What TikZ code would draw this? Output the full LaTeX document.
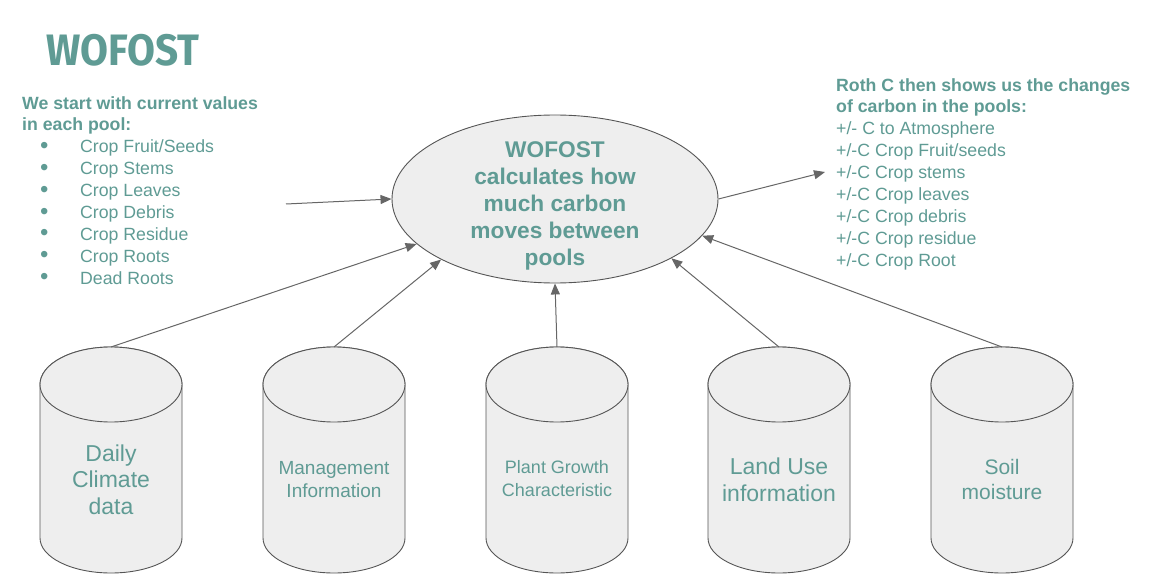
\documentclass[tikz,border=0pt]{standalone}
\usepackage{fontspec}
\setmainfont{Liberation Sans}
\newfontfamily\titlefont{Fira Sans}[FakeStretch=0.92]
\usetikzlibrary{shapes.geometric,arrows.meta}
\definecolor{teal}{HTML}{5F9B94}
\definecolor{edge}{HTML}{555555}
\definecolor{linegray}{HTML}{666666}
\definecolor{canfill}{HTML}{EEEEEE}
\newcommand{\poolbullet}{\makebox[58pt][l]{\hspace{18pt}\raisebox{-0.5pt}{\scalebox{1.35}{\textbullet}}}}

\begin{document}
\begin{tikzpicture}[x=1pt,y=-1pt,
  can/.style={draw=edge, line width=0.9pt, fill=canfill},
  cantext/.style={text=teal, align=center, inner sep=0pt},
  pool/.style={ellipse, draw=edge, line width=0.9pt, fill=canfill, inner sep=0pt,
    minimum width=326pt, minimum height=168pt},
  flow/.style={draw=linegray, line width=1pt, -{Triangle[length=11pt,width=9pt]}},
  listtext/.style={text=teal, align=left, inner sep=0pt, anchor=north west,
    font=\fontsize{17.7}{21.9}\selectfont}]
\useasboundingbox (0,0) rectangle (1151,588);

% title and the two text blocks
\node[text=teal, font=\titlefont\bfseries\fontsize{44}{44}\selectfont] (title) at (123,50) {WOFOST};

\node[listtext] (start) at (22,96) {{\bfseries We start with current values}\\
{\bfseries in each pool:}\\
\poolbullet Crop Fruit/Seeds\\
\poolbullet Crop Stems\\
\poolbullet Crop Leaves\\
\poolbullet Crop Debris\\
\poolbullet Crop Residue\\
\poolbullet Crop Roots\\
\poolbullet Dead Roots};

\node[listtext] (rothc) at (836,78) {{\bfseries Roth C then shows us the changes}\\
{\bfseries of carbon in the pools:}\\
+/- C to Atmosphere\\
+/-C Crop Fruit/seeds\\
+/-C Crop stems\\
+/-C Crop leaves\\
+/-C Crop debris\\
+/-C Crop residue\\
+/-C Crop Root};

% centre
\node[pool] (core) at (555,199) {};
\node[text=teal, align=center, font=\bfseries\fontsize{22.7}{26.8}\selectfont] (coretext) at (555,206)
  {WOFOST\\calculates how\\much carbon\\moves between\\pools};

% the five data stores
\begin{scope}[xshift=111pt]
\coordinate (dtop) at (0,347);
\draw[can] (-71,384.5) -- (-71,538) arc[start angle=180,end angle=360,x radius=71pt,y radius=35pt] -- (71,384.5) arc[start angle=0,end angle=180,x radius=71pt,y radius=37.5pt] -- cycle;
\draw[can] (0,384.5) ellipse[x radius=71pt,y radius=37.5pt];
\node[cantext, font=\fontsize{23}{26.5}\selectfont] (daily) at (0,479.5) {Daily\\Climate\\data};
\end{scope}

\begin{scope}[xshift=334pt]
\coordinate (mtop) at (0,347);
\draw[can] (-71,384.5) -- (-71,538) arc[start angle=180,end angle=360,x radius=71pt,y radius=35pt] -- (71,384.5) arc[start angle=0,end angle=180,x radius=71pt,y radius=37.5pt] -- cycle;
\draw[can] (0,384.5) ellipse[x radius=71pt,y radius=37.5pt];
\node[cantext, font=\fontsize{19}{23}\selectfont] (manage) at (0,479.5) {Management\\Information};
\end{scope}

\begin{scope}[xshift=557pt]
\coordinate (ptop) at (0,347);
\draw[can] (-71,384.5) -- (-71,538) arc[start angle=180,end angle=360,x radius=71pt,y radius=35pt] -- (71,384.5) arc[start angle=0,end angle=180,x radius=71pt,y radius=37.5pt] -- cycle;
\draw[can] (0,384.5) ellipse[x radius=71pt,y radius=37.5pt];
\node[cantext, font=\fontsize{18}{23}\selectfont] (plant) at (0,478.5) {Plant Growth\\Characteristic};
\end{scope}

\begin{scope}[xshift=779pt]
\coordinate (ltop) at (0,347);
\draw[can] (-71,384.5) -- (-71,538) arc[start angle=180,end angle=360,x radius=71pt,y radius=35pt] -- (71,384.5) arc[start angle=0,end angle=180,x radius=71pt,y radius=37.5pt] -- cycle;
\draw[can] (0,384.5) ellipse[x radius=71pt,y radius=37.5pt];
\node[cantext, font=\fontsize{23}{26.5}\selectfont] (landuse) at (0,480) {Land Use\\information};
\end{scope}

\begin{scope}[xshift=1002pt]
\coordinate (stop) at (0,347);
\draw[can] (-71,384.5) -- (-71,538) arc[start angle=180,end angle=360,x radius=71pt,y radius=35pt] -- (71,384.5) arc[start angle=0,end angle=180,x radius=71pt,y radius=37.5pt] -- cycle;
\draw[can] (0,384.5) ellipse[x radius=71pt,y radius=37.5pt];
\node[cantext, font=\fontsize{21}{25}\selectfont] (soil) at (0,479.5) {Soil\\moisture};
\end{scope}

% arrows
\coordinate (instart) at (286,204);
\coordinate (outend) at (825,172);
\draw[flow] (instart) -- (core.west);
\draw[flow] (core.east) -- (outend);
\draw[flow] (dtop) -- (core.198);
\draw[flow] (mtop) -- (core.208);
\draw[flow] (ptop) -- (core.south);
\draw[flow] (ltop) -- (core.333);
\draw[flow] (stop) -- (core.346);

\end{tikzpicture}
\end{document}
